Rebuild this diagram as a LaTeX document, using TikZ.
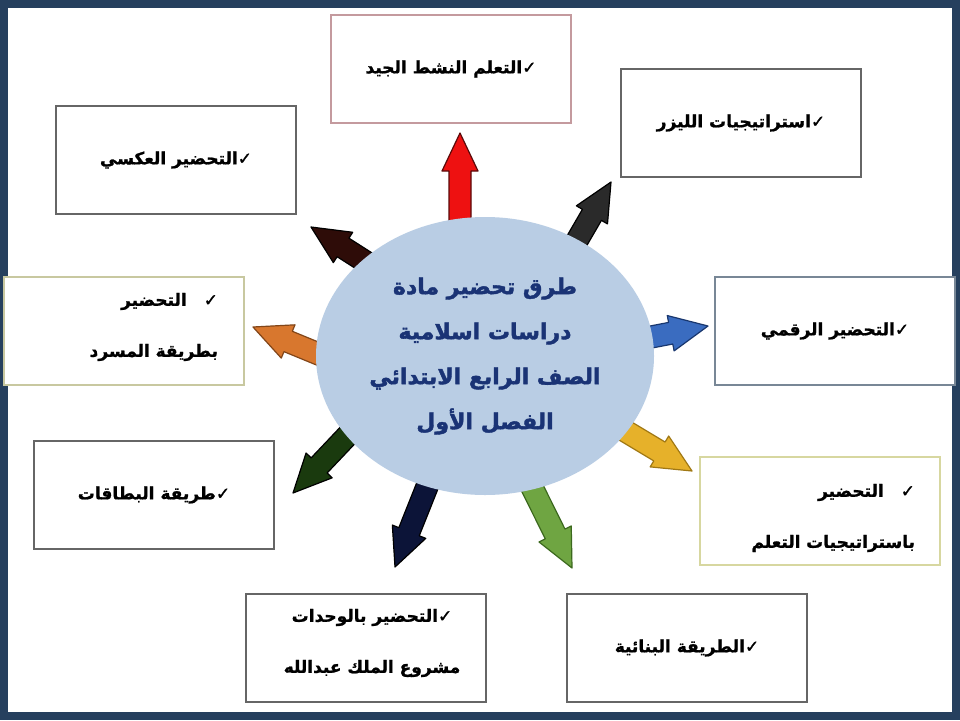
\documentclass[tikz,border=0pt]{standalone}
\usepackage{fontspec}
\newfontfamily\arabicfont[Script=Arabic, BoldFeatures={FakeBold=1.2}]{DejaVu Sans}
\newfontfamily\arabicheavy[Script=Arabic, BoldFeatures={FakeBold=1.8}]{DejaVu Sans}
\TeXXeTstate=1
\usetikzlibrary{calc,shapes.geometric}
\definecolor{framecol}{HTML}{26405E}
\definecolor{ellfill}{HTML}{B9CDE4}
\definecolor{elltext}{HTML}{1A3375}
\definecolor{bxpink}{HTML}{C49A9E}
\definecolor{bxgray}{HTML}{666666}
\definecolor{bxyel}{HTML}{C8C8A0}
\definecolor{bxblue}{HTML}{788796}
\definecolor{bxyel2}{HTML}{D7D7A0}
\definecolor{aredf}{HTML}{EE1111}\definecolor{aredd}{HTML}{5A0A0A}
\definecolor{ablkf}{HTML}{2A2A2A}
\definecolor{abrnf}{HTML}{2E0C08}
\definecolor{aorf}{HTML}{D8772E}\definecolor{aord}{HTML}{824619}
\definecolor{ablf}{HTML}{3A6CC0}\definecolor{abld}{HTML}{19376E}
\definecolor{ayef}{HTML}{E6B12A}\definecolor{ayed}{HTML}{A07814}
\definecolor{adgf}{HTML}{1A3A0E}
\definecolor{anvf}{HTML}{0C1438}
\definecolor{agrf}{HTML}{6FA542}\definecolor{agrd}{HTML}{3C691E}
\newcommand\blockarrow[3]{%
 \filldraw[#3, line width=1.2pt, line join=round] let \p1=($(#2)-(#1)$), \n1={atan2(\y1,\x1)} in
 (#2) -- ($(#2)+(\n1+180:38pt)+(\n1+90:18pt)$) -- ($(#2)+(\n1+180:38pt)+(\n1+90:11pt)$)
 -- ($(#1)+(\n1+90:11pt)$) -- ($(#1)+(\n1-90:11pt)$)
 -- ($(#2)+(\n1+180:38pt)+(\n1-90:11pt)$) -- ($(#2)+(\n1+180:38pt)+(\n1-90:18pt)$) -- cycle;}
\begin{document}
\begin{tikzpicture}[x=1pt,y=-1pt,
  boxfont/.style={font=\arabicfont\bfseries\fontsize{17}{51}\selectfont},
  box/.style={draw=#1, line width=1.3pt, fill=white, minimum width=240pt, minimum height=108pt, inner sep=0pt, boxfont},
  box/.default=bxgray,
  boxtext/.style={inner sep=0pt, boxfont}]
\useasboundingbox (0,0) rectangle (960,720);
\fill[white] (0,0) rectangle (960,720);
\draw[framecol, line width=8pt] (4,4) rectangle (956,716);
% boxes
\node[box=bxpink] (b1) at (451,69) {\beginR ✓التعلم النشط الجيد\endR};
\node[box] (b2) at (741,123) {\beginR ✓استراتيجيات الليزر\endR};
\node[box] (b3) at (176,160) {\beginR ✓التحضير العكسي\endR};
\node[box=bxyel] (b4) at (124,331) {};
\node[boxtext, text width=188pt, align=right] (t4) at ([yshift=4pt]b4.center)
  {\beginR ✓\quad التحضير\endR\\\beginR بطريقة المسرد\endR};
\node[box=bxblue] (b5) at (835,331) {\beginR ✓التحضير الرقمي\endR};
\node[box=bxyel2] (b6) at (820,511) {};
\node[boxtext, text width=190pt, align=right] (t6) at ([yshift=-7pt]b6.center)
  {\beginR ✓\quad التحضير\endR\\\beginR باستراتيجيات التعلم\endR};
\node[box] (b7) at (154,495) {\beginR ✓طريقة البطاقات\endR};
\node[box] (b8) at (366,648) {};
\node[boxtext, align=center] (t8) at ([xshift=6pt,yshift=5pt]b8.center)
  {\beginR ✓التحضير بالوحدات\endR\\\beginR مشروع الملك عبدالله\endR};
\node[box] (b9) at (687,648) {\beginR ✓الطريقة البنائية\endR};
% arrow ends
\coordinate (tA) at (460,133); \coordinate (sA) at (460,250);
\coordinate (tB) at (611,182); \coordinate (sB) at (557,275);
\coordinate (tC) at (311,227); \coordinate (sC) at (394,280);
\coordinate (tD) at (253,327); \coordinate (sD) at (355,369);
\coordinate (tE) at (708,326); \coordinate (sE) at (615,344);
\coordinate (tF) at (692,471); \coordinate (sF) at (582,405);
\coordinate (tG) at (293,493); \coordinate (sG) at (384,397);
\coordinate (tH) at (395,567); \coordinate (sH) at (446,439);
\coordinate (tI) at (572,568); \coordinate (sI) at (510,443);
\blockarrow{sA}{tA}{fill=aredf, draw=aredd}
\blockarrow{sB}{tB}{fill=ablkf, draw=black}
\blockarrow{sC}{tC}{fill=abrnf, draw=black}
\blockarrow{sD}{tD}{fill=aorf, draw=aord}
\blockarrow{sE}{tE}{fill=ablf, draw=abld}
\blockarrow{sF}{tF}{fill=ayef, draw=ayed}
\blockarrow{sG}{tG}{fill=adgf, draw=black}
\blockarrow{sH}{tH}{fill=anvf, draw=black}
\blockarrow{sI}{tI}{fill=agrf, draw=agrd}
% centre
\node[ellipse, fill=ellfill, minimum width=338pt, minimum height=278pt, inner sep=0pt, align=center,
  text=elltext, font=\arabicheavy\bfseries\fontsize{22}{45}\selectfont] (c) at (485,356)
  {\beginR طرق تحضير مادة\endR\\\beginR دراسات اسلامية\endR\\\beginR الصف الرابع الابتدائي\endR\\\beginR الفصل الأول\endR};
\end{tikzpicture}
\end{document}
